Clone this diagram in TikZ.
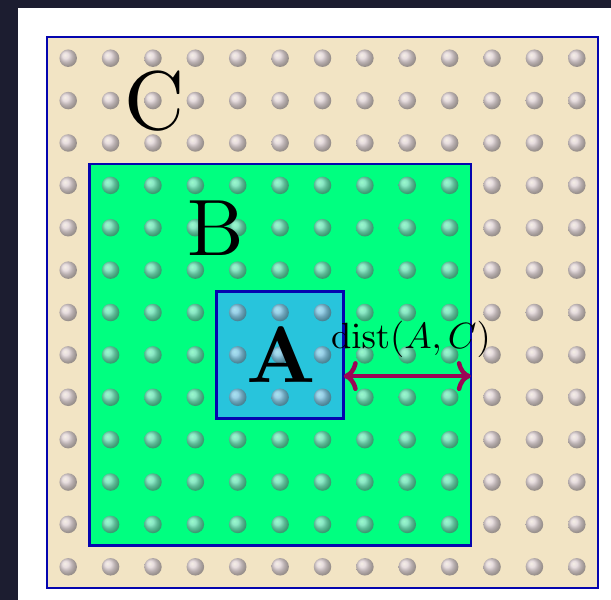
\documentclass[tikz,border=0pt]{standalone}
\usetikzlibrary{arrows.meta,calc}
\definecolor{bgdark}{RGB}{28,29,48}
\definecolor{beige}{RGB}{242,228,196}
\definecolor{bgreen}{RGB}{0,255,128}
\definecolor{acyan}{RGB}{40,196,220}
\definecolor{bord}{RGB}{5,5,175}
\definecolor{arrowc}{RGB}{155,5,85}
\definecolor{ballc}{RGB}{215,205,235}
\begin{document}
\begin{tikzpicture}[x=1pt,y=-1pt,
  region/.style={draw=bord, line width=2.5pt, inner sep=0pt, outer sep=0pt, anchor=north west},
  ball/.style={circle, inner sep=0pt, minimum size=17.5pt, shading=ball, ball color=ballc, fill opacity=0.62},
  biglabel/.style={font=\fontsize{10}{12}\selectfont, inner sep=0pt, scale=8},
  distlabel/.style={font=\fontsize{10}{12}\selectfont, inner sep=0pt, anchor=base, scale=3.65},
  distarrow/.style={draw=arrowc, line width=4.5pt,
    {Computer Modern Rightarrow[length=14pt,width=30pt]}-{Computer Modern Rightarrow[length=14pt,width=30pt]}}
]
\def\s{42.385}
\fill[bgdark] (0,0) rectangle (611,600);
\fill[white] (18,8) rectangle (611,600);
\useasboundingbox (0,0) rectangle (611,600);
\node[region, fill=beige, minimum width=13*\s pt, minimum height=13*\s pt] (C) at (47,37) {};
\node[region, fill=bgreen, minimum width=9*\s pt, minimum height=9*\s pt] (B) at (47+\s,37+3*\s) {};
\node[region, fill=acyan, minimum width=3*\s pt, minimum height=3*\s pt] (A) at (47+4*\s,37+6*\s) {};
\foreach \i in {0,...,12}{
  \foreach \j in {0,...,12}{
    \node[ball] (b-\i-\j) at (47+\i*\s+\s/2, 37+\j*\s+\s/2) {};
  }
}
\node[biglabel, scale=1.04] (lC) at (155,101) {C};
\node[biglabel] (lB) at (215.5,228.5) {B};
\node[biglabel] (lA) at (281,355) {\bfseries A};
\node[distlabel] (ld) at (411,348) {$\mathrm{dist}(A,C)$};
\coordinate (arrS) at ($(A.north east)!0.6667!(A.south east)$);
\coordinate (arrE) at (B.east |- arrS);
\draw[distarrow] (arrS) -- (arrE);
\end{tikzpicture}
\end{document}
